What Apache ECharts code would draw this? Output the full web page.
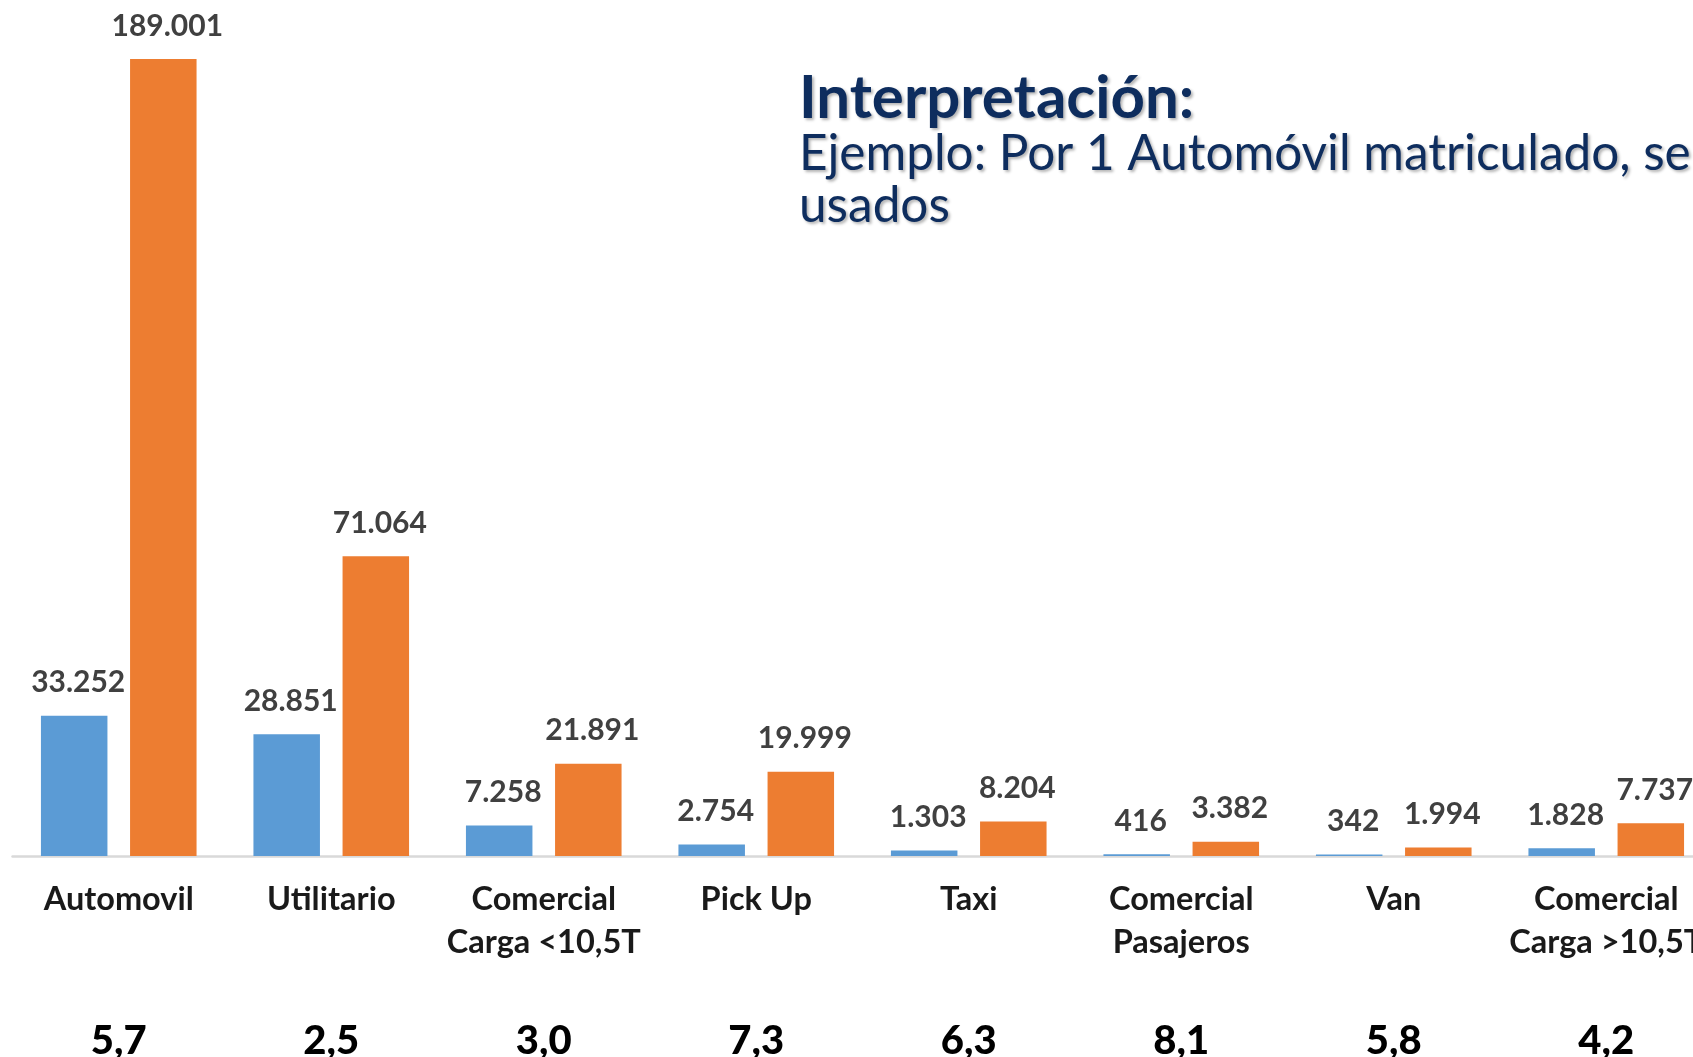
<!DOCTYPE html>
<html>
<head>
<meta charset="utf-8">
<script src="https://cdn.jsdelivr.net/npm/echarts@6/dist/echarts.min.js"></script>
<style>
html,body{margin:0;padding:0;background:#fff;}
#chart{width:1693px;height:1057px;}
</style>
</head>
<body>
<div id="chart"></div>
<script>
const categories = ['Automovil', 'Utilitario', 'Comercial\nCarga <10,5T', 'Pick Up', 'Taxi', 'Comercial\nPasajeros', 'Van', 'Comercial\nCarga >10,5T'];
const matriculados = [33252, 28851, 7258, 2754, 1303, 416, 342, 1828];
const usados = [189001, 71064, 21891, 19999, 8204, 3382, 1994, 7737];
const ratios = ['5,7', '2,5', '3,0', '7,3', '6,3', '8,1', '5,8', '4,2'];
const titleText = 'Interpretación:';
const subtitleLine1 = 'Ejemplo: Por 1 Automóvil matriculado, se';
const subtitleLine2 = 'usados';

const fmt = v => String(v).replace(/\B(?=(\d{3})+(?!\d))/g, '.');
const FONT = 'Lato, "Open Sans", sans-serif';
const NAVY = '#0E2D5E';

const chart = echarts.init(document.getElementById('chart'), null, {renderer: 'canvas'});
const labelStyle = {
  show: true, position: 'top', distance: 18, offset: [4, 0],
  fontFamily: FONT, fontSize: 30, fontWeight: 'bold', color: '#404040',
  formatter: p => fmt(p.value)
};
const shadow = {textShadowColor: 'rgba(0,0,0,0.3)', textShadowBlur: 3, textShadowOffsetX: 2, textShadowOffsetY: 2};
chart.setOption({
  animation: false,
  backgroundColor: '#ffffff',
  grid: {left: 12.5, width: 1700, top: 12.6, bottom: 201, containLabel: false, outerBoundsMode: 'none'},
  xAxis: [{
    type: 'category', data: categories, position: 'bottom',
    axisLine: {show: true, lineStyle: {color: '#D9D9D9', width: 2.5}},
    axisTick: {show: false},
    axisLabel: {interval: 0, margin: 22, fontFamily: FONT, fontSize: 32.5, fontWeight: 'bold', color: '#1a1a1a', lineHeight: 43}
  }, {
    type: 'category', data: ratios, position: 'bottom', offset: 157,
    axisLine: {show: false}, axisTick: {show: false},
    axisLabel: {interval: 0, margin: 8, fontFamily: FONT, fontSize: 40, fontWeight: 900, color: '#000000', lineHeight: 40}
  }],
  yAxis: {type: 'value', min: 0, max: 200000, show: false, splitLine: {show: false}},
  series: [{
    name: 'Matriculados', type: 'bar', data: matriculados, barWidth: 66.5, barGap: '34%',
    itemStyle: {color: '#5B9BD5'}, label: labelStyle
  }, {
    name: 'Usados', type: 'bar', data: usados, barWidth: 66.5,
    itemStyle: {color: '#ED7D31'}, label: labelStyle
  }],
  graphic: [{
    type: 'text', left: 799, top: 69,
    style: Object.assign({text: titleText, font: 'bold 60px ' + FONT, fill: NAVY}, shadow)
  }, {
    type: 'text', left: 799, top: 129,
    style: Object.assign({text: subtitleLine1, font: '49.5px ' + FONT, fill: NAVY}, shadow)
  }, {
    type: 'text', left: 799, top: 181,
    style: Object.assign({text: subtitleLine2, font: '49.5px ' + FONT, fill: NAVY}, shadow)
  }]
});
</script>
</body>
</html>
